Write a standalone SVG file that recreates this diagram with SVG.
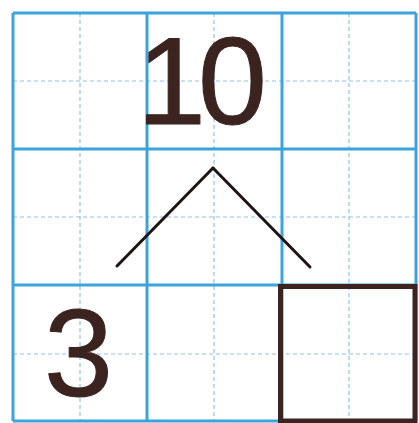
<svg xmlns="http://www.w3.org/2000/svg" width="419" height="423" viewBox="0 0 419 423">
<style>
.major{stroke:#3ba4dc;stroke-width:3;fill:none}
.minor{stroke:#8fc4e6;stroke-width:1.2;stroke-dasharray:4 3;fill:none}
.digit{font-family:"Liberation Sans",Arial,sans-serif;font-size:124px;fill:#3b2320;stroke:#3b2320;stroke-width:1;stroke-linejoin:round}
.bond{stroke:#1e1413;stroke-width:3;fill:none;stroke-linecap:round}
</style>
<rect width="419" height="423" fill="#ffffff"/>
<g id="grid">
<path class="minor" d="M80 13V421M214 13V421M349 13V421M13 81H416M13 217H416M13 354H416"/>
<path class="major" d="M13 13V421M147 13V421M282 13V421M416 13V421M13 13H416M13 149H416M13 285H416M13 421H416"/>
</g>
<g id="connectors">
<line class="bond" x1="213" y1="168" x2="117" y2="266"/>
<line class="bond" x1="213" y1="168" x2="310" y2="267"/>
</g>
<g id="node-10">
<text class="digit" x="137 198" y="124">10</text>
</g>
<g id="node-3">
<text class="digit" x="44" y="396">3</text>
</g>
<g id="node-blank">
<rect x="280.5" y="286.5" width="134.5" height="134.5" fill="none" stroke="#3b2320" stroke-width="5"/>
</g>
</svg>
